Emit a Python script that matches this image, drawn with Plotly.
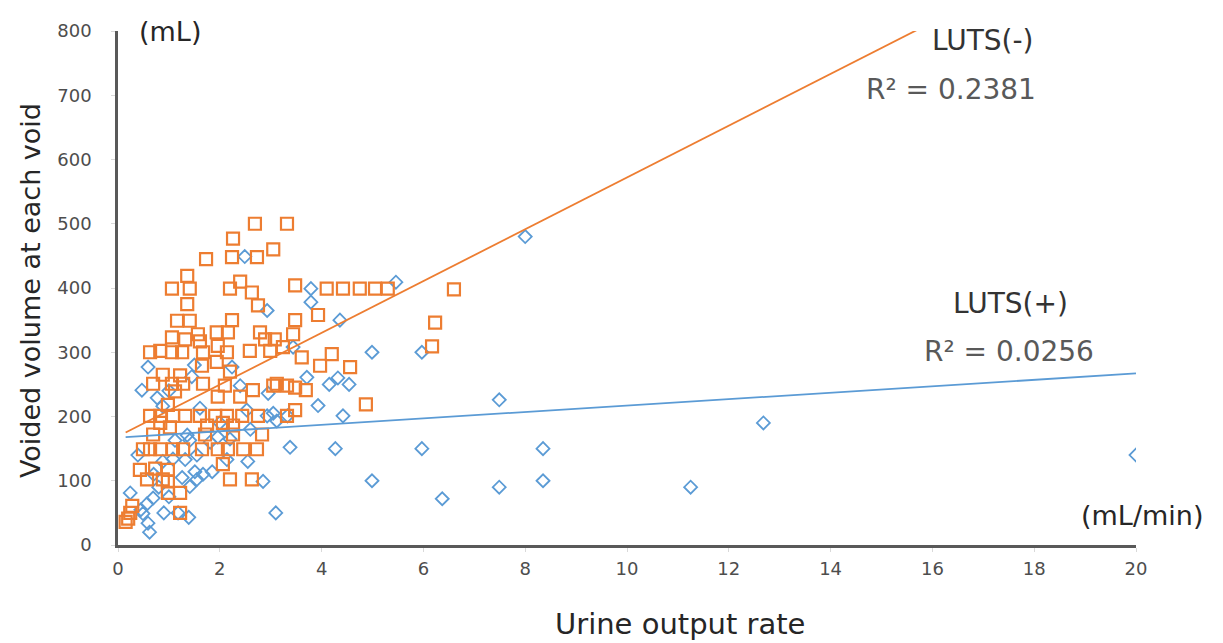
import plotly.graph_objects as go

# LUTS(-) (orange squares)
neg_x = [2.69, 3.32, 2.26, 3.05, 1.73, 2.24, 2.73, 1.36,
         1.06, 1.41, 2.2, 2.4, 2.63, 2.75, 1.36,
         3.48, 4.1, 4.42, 4.75, 5.05, 5.3, 6.6,
         1.16, 1.41, 2.24, 3.48, 3.93, 6.23,
         1.06, 1.32, 1.57, 1.61, 1.94, 2.16, 2.79, 2.89, 3.08, 3.44, 3.24, 6.17,
         0.63, 0.83, 1.06, 1.26, 1.67, 1.96, 2.14, 2.59, 2.99,
         1.65, 1.94, 2.2, 3.61, 3.97, 4.2, 4.56,
         0.88, 1.22,
         0.69, 1.06, 1.28, 1.67, 2.1, 2.65, 3.05, 3.12, 3.32, 3.48, 3.69,
         1.12, 1.96, 2.4, 0.98, 3.48, 4.87,
         0.63, 0.83, 1.08, 1.32, 1.61, 1.91, 2.14, 2.44, 2.75, 3.32,
         0.83, 1.02, 0.69, 1.75, 2.06, 2.26, 1.71, 2.26, 2.83,
         0.49, 0.63, 0.83, 1.08, 1.28, 1.65, 1.96, 2.16, 2.46, 2.73,
         2.06, 0.43, 0.73, 0.98, 0.57, 0.88, 0.98, 2.2, 2.63,
         0.98, 1.22, 1.22, 0.28, 0.24, 0.2, 0.15]
neg_y = [500, 500, 477, 460, 445, 448, 448, 419,
         399, 399, 399, 410, 393, 373, 375,
         404, 399, 399, 399, 399, 399, 398,
         349, 349, 350, 350, 358, 346,
         323, 320, 328, 317, 331, 331, 331, 320, 320, 328, 308, 309,
         300, 302, 300, 300, 300, 310, 300, 302, 302,
         279, 285, 270, 292, 279, 297, 277,
         265, 264,
         251, 251, 251, 251, 248, 241, 248, 251, 248, 245, 241,
         239, 231, 231, 218, 210, 219,
         201, 201, 201, 201, 201, 201, 201, 201, 201, 201,
         190, 183, 172, 186, 190, 186, 172, 172, 172,
         149, 149, 149, 149, 149, 149, 149, 149, 149, 149,
         126, 117, 119, 117, 102, 102, 99, 102, 102,
         81, 81, 50, 61, 50, 41, 36]

# LUTS(+) (blue diamonds)
pos_x = [20, 12.68, 11.25, 8.35, 8.35, 8.0, 7.49, 7.49, 6.37, 5.97, 5.97, 4.99, 4.99,
         5.46, 4.36, 4.54, 4.42, 4.27, 4.32, 4.15, 3.93, 3.79, 3.79, 3.71, 3.38, 3.1,
         2.93, 2.49, 3.44, 3.05, 3.33, 2.95, 2.4, 2.93, 3.12, 2.53, 2.24, 1.45, 0.59,
         0.47, 0.77, 0.88, 1.61, 1.36, 1.12, 1.41, 1.96, 1.81, 1.55, 1.32, 1.08, 0.88,
         0.39, 2.55, 2.14, 1.85, 1.67, 1.51, 1.55, 1.41, 1.26, 2.85, 0.24, 0.57, 0.69,
         0.49, 0.59, 0.62, 1.18, 1.39, 0.8, 1.0, 0.7, 2.2, 2.6, 1.0, 1.5, 2.0, 0.45, 0.9]
pos_y = [140, 190, 90, 150, 100, 480, 226, 90, 72, 150, 300, 300, 100,
         409, 350, 250, 201, 150, 260, 250, 217, 399, 378, 261, 152, 50,
         365, 449, 308, 205, 201, 236, 248, 201, 193, 210, 277, 262, 277,
         241, 229, 216, 213, 171, 163, 163, 168, 160, 140, 133, 134, 130,
         140, 130, 133, 114, 110, 114, 102, 91, 105, 99, 81, 64, 73,
         49, 34, 20, 50, 43, 90, 75, 110, 165, 180, 240, 280, 190, 55, 50]

# Linear trendlines: slope, intercept
neg_slope, neg_intercept = 40.3, 169.0
pos_slope, pos_intercept = 5.0, 167.0
trend_x = [0.15, 20]

x_ticks = list(range(0, 21, 2))
y_ticks = list(range(0, 801, 100))

ORANGE = "#ED7D31"
BLUE = "#5B9BD5"
FONT = "DejaVu Sans"

fig = go.Figure()
fig.add_trace(go.Scatter(x=pos_x, y=pos_y, mode="markers",
                         marker=dict(symbol="diamond-open", size=10, color=BLUE,
                                     line=dict(width=1.8, color=BLUE)),
                         name="LUTS(+)"))
fig.add_trace(go.Scatter(x=neg_x, y=neg_y, mode="markers",
                         marker=dict(symbol="square-open", size=12, color=ORANGE,
                                     line=dict(width=2.2, color=ORANGE)),
                         name="LUTS(-)"))
fig.add_trace(go.Scatter(x=trend_x, y=[pos_slope * v + pos_intercept for v in trend_x],
                         mode="lines", line=dict(color=BLUE, width=1.8), name="trend+"))
fig.add_trace(go.Scatter(x=trend_x, y=[neg_slope * v + neg_intercept for v in trend_x],
                         mode="lines", line=dict(color=ORANGE, width=1.8), name="trend-"))

ann = [
    dict(text="(mL)", x=0.051, y=1.0, color="#262626", size=27),
    dict(text="LUTS(-)", x=0.85, y=0.981, color="#333333", size=28),
    dict(text="R² = 0.2381", x=0.818, y=0.886, color="#595959", size=28),
    dict(text="LUTS(+)", x=0.877, y=0.470, color="#333333", size=28),
    dict(text="R² = 0.0256", x=0.875, y=0.377, color="#595959", size=28),
    dict(text="(mL/min)", x=1.006, y=0.057, color="#262626", size=27),
    dict(text="Urine output rate", x=0.552, y=-0.154, color="#262626", size=29),
]
annotations = [dict(text=a["text"], x=a["x"], y=a["y"], xref="paper", yref="paper",
                    showarrow=False, xanchor="center", yanchor="middle",
                    font=dict(family=FONT, size=a["size"], color=a["color"])) for a in ann]
annotations.append(dict(text="Voided volume at each void", x=-0.086, y=0.495,
                        xref="paper", yref="paper", showarrow=False, textangle=-90,
                        xanchor="center", yanchor="middle",
                        font=dict(family=FONT, size=27, color="#262626")))

# page body has an 8px margin, so the figure is 8px smaller and shifted
fig.update_layout(
    width=1215, height=635,
    margin=dict(l=110, r=87, t=12, b=98),
    paper_bgcolor="white", plot_bgcolor="white",
    showlegend=False,
    annotations=annotations,
    font=dict(family=FONT),
)
fig.update_xaxes(range=[0, 20], tickvals=x_ticks, ticktext=[str(v) for v in x_ticks],
                 showgrid=False, zeroline=False, showline=True, linecolor="#595959",
                 linewidth=2.5, ticks="outside", ticklen=4, tickcolor="#D9D9D9",
                 ticklabelstandoff=2,
                 tickfont=dict(family=FONT, size=18, color="#4d4d4d"))
fig.update_yaxes(range=[0, 800], tickvals=y_ticks, ticktext=[str(v) for v in y_ticks],
                 showgrid=False, zeroline=False, showline=True, linecolor="#595959",
                 linewidth=2.5, ticks="outside", ticklen=4, tickcolor="#D9D9D9",
                 ticklabelstandoff=16,
                 tickfont=dict(family=FONT, size=18, color="#4d4d4d"))

fig.write_html("out.html")
